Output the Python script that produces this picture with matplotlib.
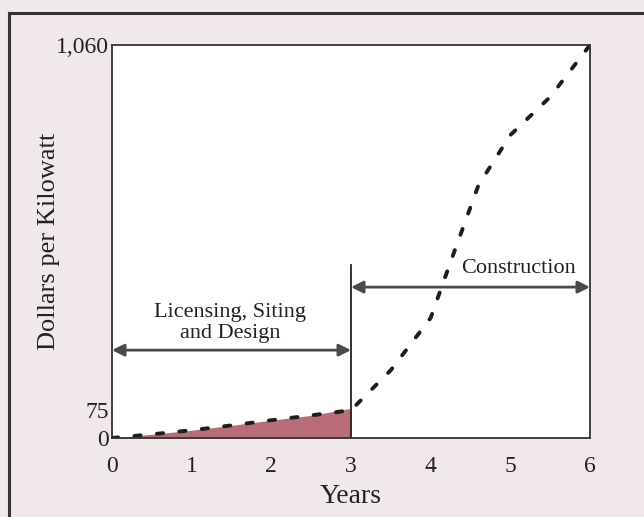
import matplotlib.pyplot as plt
from matplotlib.lines import Line2D

# cost curve (years, dollars per kW)
years = [0, 0.5, 1, 1.5, 2, 2.5, 3, 3.5, 4, 4.25, 4.6, 5, 5.5, 6]
dollars = [0, 10, 21, 34, 48, 61, 75, 183, 324, 475, 682, 817, 920, 1060]

fill_years = [0, 0.5, 1, 1.5, 2, 2.5, 3]
fill_dollars = [0, 10, 21, 34, 48, 61, 80]

xticks = [0, 1, 2, 3, 4, 5, 6]
yticks = [0, 75, 1060]
ytick_labels = ["0", "75", "1,060"]

phase_split = 3
split_top = 466
licensing_y = 237
construction_y = 407

plt.rcParams['font.family'] = ['Liberation Serif', 'DejaVu Serif']

fig = plt.figure(figsize=(6.44, 5.17), dpi=100)
fig.patch.set_facecolor('#f1e9e9')

# page frame
fig.add_artist(Line2D([9/644, 9/644], [0, 1 - 13/517], color='#333333', lw=2.2))
fig.add_artist(Line2D([9/644, 1], [1 - 13/517, 1 - 13/517], color='#333333', lw=2.2))

ax = fig.add_axes([112/644, 79/517, 478/644, 393/517])
ax.set_facecolor('white')

ax.fill_between(fill_years, fill_dollars, 0, color='#b86d76', lw=0)
ax.plot(years, dollars, color='#1e1e1e', lw=2.8, linestyle=(0, (1.6, 4.2)),
        dash_capstyle='round')

ax.plot([phase_split, phase_split], [0, split_top], color='#222222', lw=1.3)

ax.annotate('', xy=(0, licensing_y), xytext=(phase_split, licensing_y),
            arrowprops=dict(arrowstyle='<|-|>', color='#4a4a4a', lw=2,
                            mutation_scale=18, shrinkA=0, shrinkB=0))
ax.annotate('', xy=(phase_split, construction_y), xytext=(6, construction_y),
            arrowprops=dict(arrowstyle='<|-|>', color='#4a4a4a', lw=2,
                            mutation_scale=18, shrinkA=0, shrinkB=0))

ax.text(1.48, 310, 'Licensing, Siting\nand Design', ha='center', va='center',
        fontsize=16, color='#222222', linespacing=1.2)
ax.text(5.1, 458, 'Construction', ha='center', va='center',
        fontsize=16, color='#222222')

ax.set_xlim(0, 6)
ax.set_ylim(0, 1060)
ax.set_xticks(xticks)
ax.set_yticks(yticks)
ax.set_yticklabels(ytick_labels)
ax.tick_params(axis='both', labelsize=17, length=0, colors='#222222')
ax.tick_params(axis='x', pad=13)
ax.tick_params(axis='y', pad=2)

for s in ax.spines.values():
    s.set_color('#333333')
    s.set_linewidth(1.3)

ax.set_xlabel('Years', fontsize=20, color='#222222', labelpad=5)
ax.set_ylabel('Dollars per Kilowatt', fontsize=19, color='#222222', labelpad=-3)

fig.savefig('out.png', dpi=100, facecolor=fig.get_facecolor())
